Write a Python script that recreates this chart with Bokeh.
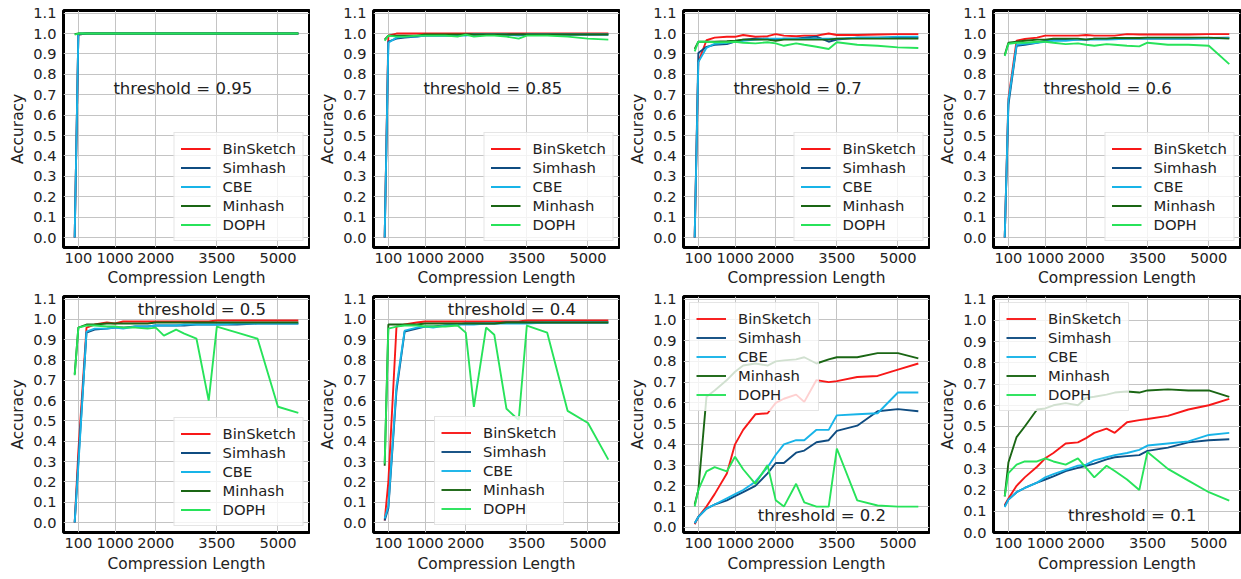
from bokeh.plotting import figure
from bokeh.layouts import column, row
from bokeh.models import (Range1d, FixedTicker, PrintfTickFormatter, Legend,
                          LegendItem, Label)
from bokeh.embed import file_html
from bokeh.resources import INLINE

# Compression lengths shared by every panel
LENGTHS = [10, 100, 300, 500, 800, 1000, 1200, 1500, 1800, 2000,
           2200, 2500, 2700, 3000, 3300, 3500, 4000, 4500, 5000, 5500]
X_TICKS = [100, 1000, 2000, 3500, 5000]
Y_TICKS = [0.0, 0.1, 0.2, 0.3, 0.4, 0.5, 0.6, 0.7, 0.8, 0.9, 1.0, 1.1]

METHODS = ["BinSketch", "Simhash", "CBE", "Minhash", "DOPH"]
COLORS = ["#f81818", "#0f4c81", "#18b4e8", "#1a6614", "#27e35a"]

# threshold = 0.95
BIN_095 = [0.0, 0.995, 1.0, 1.0, 1.0, 1.0, 1.0, 1.0, 1.0, 1.0,
           1.0, 1.0, 1.0, 1.0, 1.0, 1.0, 1.0, 1.0, 1.0, 1.0]
SIM_095 = [0.0, 0.995, 1.0, 1.0, 1.0, 1.0, 1.0, 1.0, 1.0, 1.0,
           1.0, 1.0, 1.0, 1.0, 1.0, 1.0, 1.0, 1.0, 1.0, 1.0]
CBE_095 = [0.0, 1.0, 1.0, 1.0, 1.0, 1.0, 1.0, 1.0, 1.0, 1.0,
           1.0, 1.0, 1.0, 1.0, 1.0, 1.0, 1.0, 1.0, 1.0, 1.0]
MIN_095 = [0.997, 1.0, 1.0, 1.0, 1.0, 1.0, 1.0, 1.0, 1.0, 1.0,
           1.0, 1.0, 1.0, 1.0, 1.0, 1.0, 1.0, 1.0, 1.0, 1.0]
DOPH_095 = [0.995, 1.0, 1.0, 1.0, 1.0, 1.0, 1.0, 1.0, 1.0, 1.0,
            1.0, 1.0, 1.0, 1.0, 1.0, 1.0, 1.0, 1.0, 1.0, 1.0]

# threshold = 0.85
BIN_085 = [0.0, 0.99, 1.0, 1.0, 1.0, 1.0, 1.0, 1.0, 1.0, 1.0,
           1.0, 1.0, 1.0, 1.0, 1.0, 1.0, 1.0, 1.0, 1.0, 1.0]
SIM_085 = [0.0, 0.96, 0.975, 0.98, 0.985, 0.99, 0.99, 0.99, 0.99, 0.995,
           0.995, 0.995, 0.995, 0.995, 0.995, 0.995, 0.995, 0.995, 0.995, 0.995]
CBE_085 = [0.0, 0.955, 0.98, 0.985, 0.985, 0.99, 0.99, 0.99, 0.99, 0.99,
           0.995, 0.995, 0.995, 0.995, 0.99, 0.995, 0.995, 0.995, 0.995, 0.995]
MIN_085 = [0.97, 0.99, 0.99, 0.99, 0.99, 0.995, 0.995, 0.995, 0.995, 0.995,
           0.995, 0.995, 0.995, 0.995, 0.995, 0.995, 0.995, 0.995, 0.995, 0.995]
DOPH_085 = [0.965, 0.99, 0.985, 0.985, 0.99, 0.99, 0.99, 0.99, 0.985, 0.995,
            0.985, 0.99, 0.99, 0.985, 0.975, 0.99, 0.99, 0.985, 0.975, 0.97]

# threshold = 0.7
BIN_07 = [0.0, 0.86, 0.967, 0.98, 0.984, 0.984, 0.993, 0.984, 0.987, 0.997,
          0.99, 0.987, 0.99, 0.99, 1.0, 0.993, 0.993, 0.995, 0.997, 0.997]
SIM_07 = [0.0, 0.905, 0.935, 0.945, 0.948, 0.96, 0.97, 0.975, 0.975, 0.97,
          0.975, 0.975, 0.98, 0.985, 0.96, 0.97, 0.98, 0.98, 0.98, 0.98]
CBE_07 = [0.0, 0.86, 0.93, 0.95, 0.955, 0.96, 0.965, 0.97, 0.975, 0.975,
          0.975, 0.975, 0.975, 0.975, 0.975, 0.975, 0.98, 0.98, 0.985, 0.985]
MIN_07 = [0.925, 0.96, 0.96, 0.96, 0.962, 0.965, 0.97, 0.97, 0.97, 0.965,
          0.97, 0.97, 0.97, 0.97, 0.97, 0.975, 0.975, 0.975, 0.975, 0.975]
DOPH_07 = [0.913, 0.96, 0.96, 0.957, 0.957, 0.96, 0.955, 0.952, 0.957, 0.952,
           0.94, 0.952, 0.945, 0.935, 0.924, 0.957, 0.945, 0.94, 0.932, 0.929]

# threshold = 0.6
BIN_06 = [0.0, 0.68, 0.965, 0.973, 0.98, 0.99, 0.99, 0.99, 0.99, 0.993,
          0.99, 0.99, 0.99, 0.997, 0.995, 0.995, 0.995, 0.995, 0.997, 0.997]
SIM_06 = [0.0, 0.65, 0.94, 0.945, 0.955, 0.965, 0.97, 0.97, 0.97, 0.97,
          0.975, 0.975, 0.975, 0.975, 0.975, 0.975, 0.975, 0.975, 0.978, 0.98]
CBE_06 = [0.0, 0.67, 0.945, 0.95, 0.955, 0.96, 0.965, 0.965, 0.97, 0.97,
          0.97, 0.97, 0.972, 0.975, 0.975, 0.975, 0.975, 0.975, 0.975, 0.978]
MIN_06 = [0.895, 0.955, 0.96, 0.965, 0.97, 0.97, 0.975, 0.975, 0.975, 0.97,
          0.975, 0.975, 0.978, 0.978, 0.978, 0.98, 0.98, 0.98, 0.98, 0.975]
DOPH_06 = [0.89, 0.95, 0.955, 0.955, 0.96, 0.96, 0.955, 0.948, 0.952, 0.945,
           0.94, 0.948, 0.945, 0.94, 0.937, 0.955, 0.945, 0.945, 0.94, 0.85]

# threshold = 0.5
BIN_05 = [0.0, 0.35, 0.96, 0.975, 0.985, 0.98, 0.99, 0.99, 0.99, 0.99,
          0.99, 0.99, 0.99, 0.99, 0.99, 0.995, 0.995, 0.995, 0.995, 0.995]
SIM_05 = [0.0, 0.3, 0.935, 0.95, 0.955, 0.96, 0.96, 0.965, 0.965, 0.97,
          0.97, 0.97, 0.97, 0.975, 0.975, 0.975, 0.975, 0.98, 0.98, 0.98]
CBE_05 = [0.0, 0.28, 0.94, 0.955, 0.955, 0.96, 0.955, 0.965, 0.965, 0.97,
          0.97, 0.97, 0.975, 0.975, 0.975, 0.975, 0.98, 0.98, 0.98, 0.98]
MIN_05 = [0.73, 0.96, 0.975, 0.975, 0.98, 0.98, 0.98, 0.98, 0.98, 0.985,
          0.985, 0.985, 0.985, 0.985, 0.985, 0.985, 0.985, 0.985, 0.985, 0.985]
DOPH_05 = [0.725, 0.96, 0.97, 0.97, 0.965, 0.965, 0.96, 0.96, 0.955, 0.96,
           0.92, 0.95, 0.93, 0.905, 0.60, 0.965, 0.935, 0.905, 0.57, 0.54]

# threshold = 0.4
BIN_04 = [0.01, 0.2, 0.965, 0.975, 0.985, 0.99, 0.99, 0.99, 0.99, 0.99,
          0.99, 0.99, 0.99, 0.99, 0.99, 0.995, 0.995, 0.995, 0.995, 0.995]
SIM_04 = [0.01, 0.07, 0.65, 0.94, 0.955, 0.965, 0.965, 0.97, 0.975, 0.98,
          0.98, 0.98, 0.98, 0.985, 0.985, 0.985, 0.985, 0.985, 0.985, 0.985]
CBE_04 = [0.02, 0.08, 0.67, 0.945, 0.96, 0.965, 0.96, 0.97, 0.975, 0.975,
          0.975, 0.98, 0.98, 0.98, 0.98, 0.98, 0.985, 0.985, 0.985, 0.985]
MIN_04 = [0.28, 0.975, 0.975, 0.975, 0.975, 0.98, 0.98, 0.98, 0.98, 0.98,
          0.98, 0.98, 0.98, 0.985, 0.985, 0.985, 0.985, 0.985, 0.985, 0.985]
DOPH_04 = [0.29, 0.955, 0.965, 0.97, 0.97, 0.965, 0.965, 0.965, 0.97, 0.935,
           0.57, 0.96, 0.925, 0.56, 0.505, 0.97, 0.935, 0.55, 0.49, 0.31]

# threshold = 0.2
BIN_02 = [0.015, 0.05, 0.10, 0.16, 0.26, 0.40, 0.47, 0.545, 0.55, 0.60,
          0.62, 0.64, 0.605, 0.71, 0.70, 0.705, 0.725, 0.73, 0.76, 0.79]
SIM_02 = [0.02, 0.05, 0.09, 0.11, 0.13, 0.15, 0.17, 0.20, 0.26, 0.31,
          0.31, 0.36, 0.37, 0.41, 0.42, 0.465, 0.49, 0.56, 0.57, 0.56]
CBE_02 = [0.02, 0.05, 0.09, 0.11, 0.14, 0.16, 0.18, 0.22, 0.29, 0.35,
          0.40, 0.42, 0.42, 0.47, 0.47, 0.54, 0.545, 0.55, 0.65, 0.65]
MIN_02 = [0.11, 0.18, 0.63, 0.66, 0.71, 0.75, 0.78, 0.79, 0.78, 0.80,
          0.805, 0.81, 0.82, 0.79, 0.81, 0.82, 0.82, 0.84, 0.84, 0.815]
DOPH_02 = [0.10, 0.18, 0.27, 0.29, 0.27, 0.34, 0.28, 0.21, 0.30, 0.13,
           0.10, 0.21, 0.12, 0.10, 0.10, 0.38, 0.13, 0.105, 0.10, 0.10]

# threshold = 0.1
BIN_01 = [0.13, 0.16, 0.22, 0.26, 0.31, 0.35, 0.375, 0.42, 0.425, 0.445,
          0.47, 0.49, 0.47, 0.52, 0.53, 0.535, 0.55, 0.58, 0.60, 0.63]
SIM_01 = [0.125, 0.155, 0.19, 0.21, 0.235, 0.25, 0.265, 0.29, 0.305, 0.315,
          0.325, 0.345, 0.355, 0.36, 0.365, 0.385, 0.40, 0.425, 0.435, 0.44]
CBE_01 = [0.12, 0.155, 0.19, 0.21, 0.235, 0.26, 0.275, 0.295, 0.315, 0.32,
          0.34, 0.355, 0.365, 0.375, 0.39, 0.41, 0.42, 0.43, 0.46, 0.47]
MIN_01 = [0.17, 0.33, 0.45, 0.50, 0.58, 0.585, 0.60, 0.61, 0.60, 0.635,
          0.64, 0.65, 0.66, 0.665, 0.66, 0.67, 0.675, 0.67, 0.67, 0.64]
DOPH_01 = [0.17, 0.28, 0.32, 0.335, 0.335, 0.35, 0.335, 0.32, 0.35, 0.305,
           0.26, 0.315, 0.29, 0.25, 0.20, 0.38, 0.30, 0.245, 0.19, 0.15]

FONT = "DejaVu Sans"
TEXT = "#222222"

# (caption, series, y-range, caption position, legend placement)
PANELS = [
    ("threshold = 0.95", [BIN_095, SIM_095, CBE_095, MIN_095, DOPH_095],
     (-0.049, 1.113), (960, 0.73), "bottom_right"),
    ("threshold = 0.85", [BIN_085, SIM_085, CBE_085, MIN_085, DOPH_085],
     (-0.049, 1.113), (960, 0.73), "bottom_right"),
    ("threshold = 0.7", [BIN_07, SIM_07, CBE_07, MIN_07, DOPH_07],
     (-0.049, 1.113), (960, 0.73), "bottom_right"),
    ("threshold = 0.6", [BIN_06, SIM_06, CBE_06, MIN_06, DOPH_06],
     (-0.049, 1.113), (960, 0.73), "bottom_right"),
    ("threshold = 0.5", [BIN_05, SIM_05, CBE_05, MIN_05, DOPH_05],
     (-0.049, 1.113), (1560, 1.05), "bottom_right"),
    ("threshold = 0.4", [BIN_04, SIM_04, CBE_04, MIN_04, DOPH_04],
     (-0.049, 1.113), (1560, 1.05), (61, 7)),
    ("threshold = 0.2", [BIN_02, SIM_02, CBE_02, MIN_02, DOPH_02],
     (-0.025, 1.113), (1560, 0.056), "top_left"),
    ("threshold = 0.1", [BIN_01, SIM_01, CBE_01, MIN_01, DOPH_01],
     (0.0, 1.113), (1560, 0.08), "top_left"),
]


def make_panel(idx, caption, series, yr, cap_pos, leg_loc):
    top_row = idx < 4
    col = idx % 4
    width = 311 if col == 3 else 310
    # top row frames span y 10..247, bottom row frames 296..532
    if top_row:
        height, b_top, b_bottom = 289, 10, 42
        lab_off, title_off = 5, 3
    else:
        height, b_top, b_bottom = 290, 7, 47
        lab_off, title_off = 5, 4
    p = figure(width=width, height=height, output_backend="svg",
               toolbar_location=None,
               x_range=Range1d(-264.5, 5774.5),
               y_range=Range1d(*yr),
               min_border_left=63, min_border_right=1,
               min_border_top=b_top, min_border_bottom=b_bottom)
    p.background_fill_color = "white"
    p.border_fill_color = "white"
    p.outline_line_color = "black"
    p.outline_line_width = 3

    p.xaxis.ticker = FixedTicker(ticks=X_TICKS)
    p.yaxis.ticker = FixedTicker(ticks=Y_TICKS)
    p.yaxis.formatter = PrintfTickFormatter(format="%.1f")
    p.xaxis.axis_label = "Compression Length"
    p.yaxis.axis_label = "Accuracy"
    for ax in (p.xaxis, p.yaxis):
        ax.axis_line_color = None
        ax.major_tick_line_color = None
        ax.minor_tick_line_color = None
        ax.major_tick_out = 0
        ax.major_tick_in = 0
        ax.major_label_text_font = FONT
        ax.major_label_text_font_size = "14.6px"
        ax.major_label_text_color = TEXT
        ax.axis_label_text_font = FONT
        ax.axis_label_text_font_size = "15.4px"
        ax.axis_label_text_font_style = "normal"
        ax.axis_label_text_color = TEXT
    p.xaxis.major_label_standoff = lab_off
    p.xaxis.axis_label_standoff = title_off
    p.yaxis.major_label_standoff = 7
    p.yaxis.axis_label_standoff = 3

    p.grid.grid_line_color = "#c4c4c4"
    p.grid.grid_line_width = 1

    items = []
    for name, color, ys in zip(METHODS, COLORS, series):
        r = p.line(LENGTHS, ys, line_color=color, line_width=1.9)
        items.append(LegendItem(label=name, renderers=[r]))

    legend = Legend(items=items, location=leg_loc,
                    margin=0 if isinstance(leg_loc, tuple) else 6,
                    padding=6, spacing=0, glyph_width=30, glyph_height=19,
                    label_height=19, label_standoff=12,
                    label_text_font=FONT, label_text_font_size="14.8px",
                    label_text_color=TEXT,
                    border_line_color="#cccccc", border_line_width=1,
                    background_fill_color="white", background_fill_alpha=0.8)
    p.add_layout(legend)

    p.add_layout(Label(x=cap_pos[0], y=cap_pos[1], text=caption,
                       text_font=FONT, text_font_size="16.5px",
                       text_color=TEXT, text_baseline="middle",
                       text_align="left"))
    return p


plots = [make_panel(i, *spec) for i, spec in enumerate(PANELS)]
layout = column(row(*plots[:4]), row(*plots[4:]))

open("out.html", "w").write(file_html(layout, INLINE))
